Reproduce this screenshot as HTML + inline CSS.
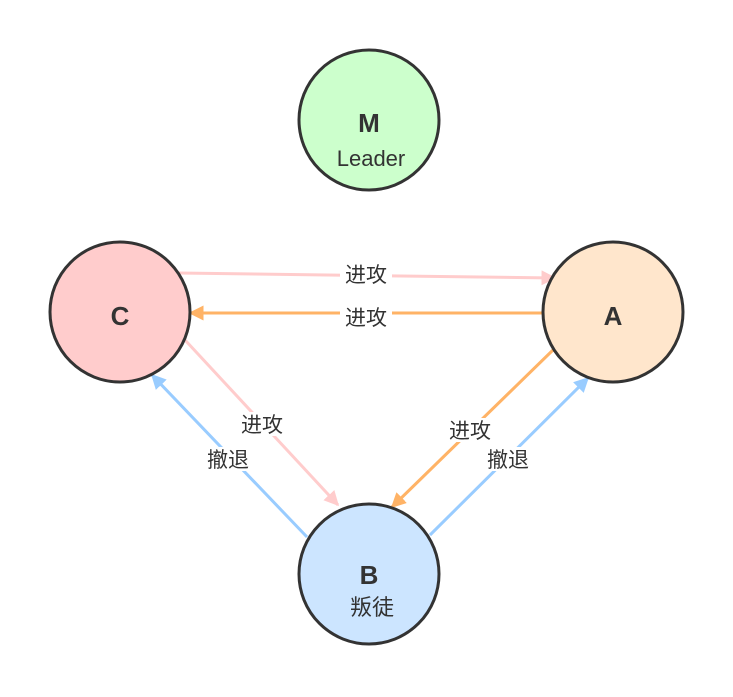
<!DOCTYPE html>
<html><head><meta charset="utf-8"><style>
html,body{margin:0;padding:0;background:#fff;}
svg text{font-family:"Liberation Sans","Noto Sans CJK SC",sans-serif;fill:#333;}
</style></head><body>
<svg width="733" height="692" viewBox="0 0 733 692" xmlns="http://www.w3.org/2000/svg">
<defs>
<marker id="pk" viewBox="0 0 10 10" refX="9" refY="5" markerWidth="5" markerHeight="5" orient="auto" markerUnits="strokeWidth"><path d="M0,0 L10,5 L0,10 z" fill="#ffcccc"/></marker>
<marker id="or" viewBox="0 0 10 10" refX="9" refY="5" markerWidth="5" markerHeight="5" orient="auto" markerUnits="strokeWidth"><path d="M0,0 L10,5 L0,10 z" fill="#ffb366"/></marker>
<marker id="bl" viewBox="0 0 10 10" refX="9" refY="5" markerWidth="5" markerHeight="5" orient="auto" markerUnits="strokeWidth"><path d="M0,0 L10,5 L0,10 z" fill="#99ccff"/></marker>
</defs>
<g stroke-width="3" fill="none">
<line x1="178" y1="273" x2="555" y2="278" stroke="#ffcccc" marker-end="url(#pk)"/>
<line x1="543" y1="313" x2="190" y2="313" stroke="#ffb366" marker-end="url(#or)"/>
<line x1="185" y1="340" x2="338" y2="505" stroke="#ffcccc" marker-end="url(#pk)"/>
<line x1="307" y1="537" x2="152" y2="375" stroke="#99ccff" marker-end="url(#bl)"/>
<line x1="553" y1="350" x2="392" y2="507" stroke="#ffb366" marker-end="url(#or)"/>
<line x1="430" y1="535" x2="588" y2="378" stroke="#99ccff" marker-end="url(#bl)"/>
</g>
<g font-size="21" text-anchor="middle">
<rect x="340" y="262" width="52" height="24" fill="#fff"/><text x="366" y="282">进攻</text>
<rect x="340" y="304" width="52" height="24" fill="#fff"/><text x="366" y="325">进攻</text>
<rect x="236" y="412" width="52" height="24" fill="#fff"/><text x="262" y="432">进攻</text>
<rect x="202" y="447" width="52" height="24" fill="#fff"/><text x="228" y="467">撤退</text>
<rect x="444" y="418" width="52" height="24" fill="#fff"/><text x="470" y="438">进攻</text>
<rect x="482" y="447" width="52" height="24" fill="#fff"/><text x="508" y="467">撤退</text>
</g>
<g stroke="#333" stroke-width="3">
<circle cx="369" cy="120" r="70" fill="#ccffcc"/>
<circle cx="120" cy="312" r="70" fill="#ffcccc"/>
<circle cx="613" cy="312" r="70" fill="#ffe6cc"/>
<circle cx="369" cy="574" r="70" fill="#cce5ff"/>
</g>
<g text-anchor="middle">
<text x="369" y="132" font-size="26" font-weight="bold">M</text>
<text x="371" y="166" font-size="22">Leader</text>
<text x="120" y="325" font-size="26" font-weight="bold">C</text>
<text x="613" y="325" font-size="26" font-weight="bold">A</text>
<text x="369" y="584" font-size="26" font-weight="bold">B</text>
<text x="372" y="615" font-size="22">叛徒</text>
</g>
</svg>
</body></html>
